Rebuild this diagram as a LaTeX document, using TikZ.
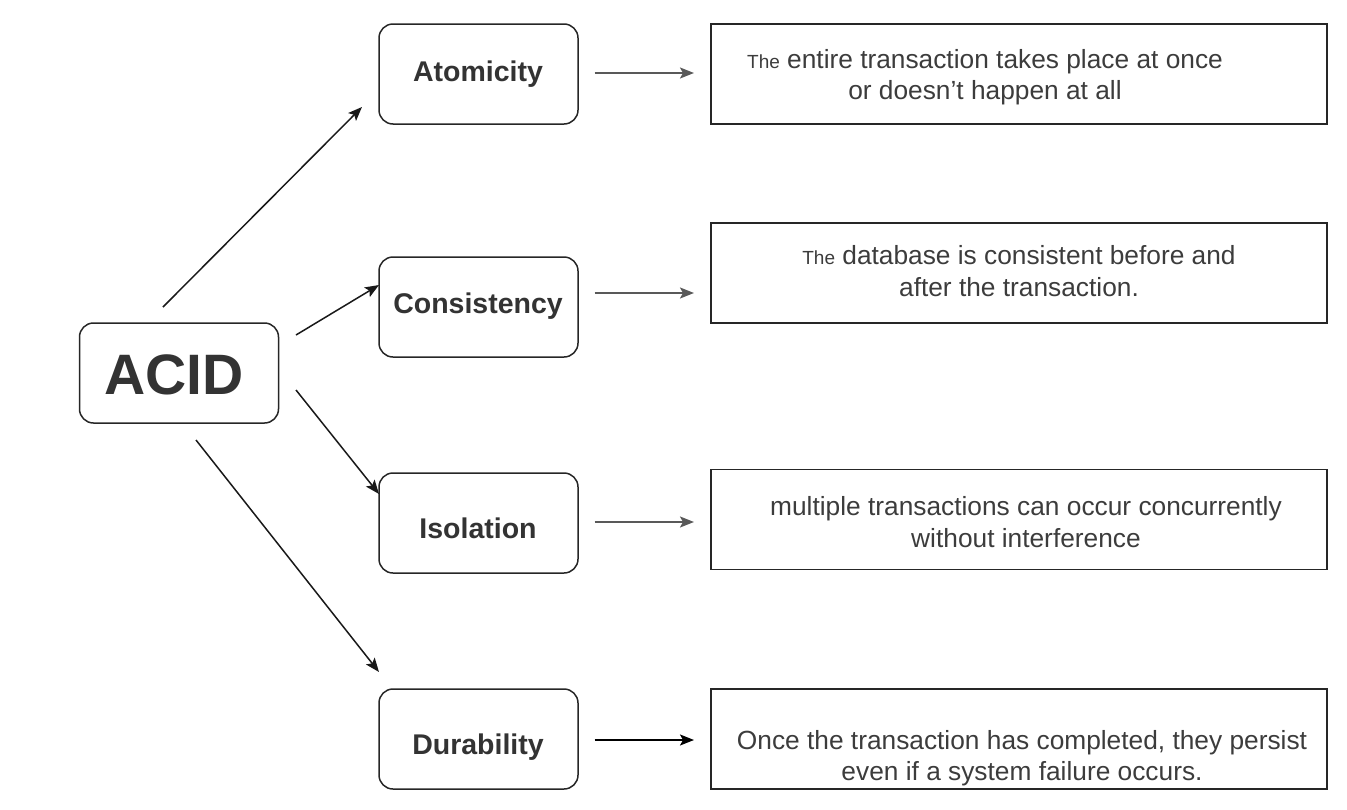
\documentclass[tikz,border=0pt]{standalone}
\usepackage{fontspec}
\setmainfont{Liberation Sans}
\usetikzlibrary{arrows.meta}
\definecolor{txt}{HTML}{333333}
\definecolor{desc}{HTML}{3C3C3C}
\definecolor{harr}{HTML}{595959}
\tikzset{
  keybox/.style={draw=black!85, line width=1.5pt, rounded corners=14pt, minimum width=199pt, minimum height=100pt, inner sep=0pt},
  descbox/.style={draw=black!85, line width=1.6pt, minimum width=616pt, minimum height=100pt, inner sep=0pt},
  keylabel/.style={text=txt, font=\fontsize{28.5}{30}\selectfont\bfseries},
  desctext/.style={text=desc, align=center, inner sep=0pt, font=\fontsize{26.3}{31.5}\selectfont},
  diagarrow/.style={draw=black!90, line width=1.5pt, -{Stealth[length=14pt,width=11pt,inset=3pt]}},
  harrow/.style={draw=harr, line width=2pt, -{Stealth[length=14pt,width=11pt,inset=3pt]}},
}
\newcommand{\smallthe}{{\fontsize{19}{19}\selectfont The}}
\begin{document}
\begin{tikzpicture}[x=1pt,y=-1pt]
\useasboundingbox (0,0) rectangle (1347,809);
% main box
\node[keybox] (acid) at (179,373) {};
\node[text=txt, font=\fontsize{57}{58}\selectfont\bfseries] (acidt) at (174,375) {ACID};
% property boxes
\node[keybox] (atom) at (478.5,74) {};
\node[keylabel] (atomt) at (478,74) {Atomicity};
\node[keybox] (cons) at (478.5,307) {};
\node[keylabel] (const) at (478,306) {Consistency};
\node[keybox] (isol) at (478.5,523) {};
\node[keylabel] (isolt) at (478,528) {Isolation};
\node[keybox] (dura) at (478.5,739) {};
\node[keylabel] (durat) at (478,747) {Durability};
% description boxes
\node[descbox] (atomd) at (1019,74) {};
\node[desctext] (atomdt) at (985,77) {\smallthe{} entire transaction takes place at once\\or doesn’t happen at all};
\node[descbox] (consd) at (1019,273) {};
\node[desctext] (consdt) at (1019,271) {\smallthe{} database is consistent before and\\after the transaction.};
\node[descbox] (isold) at (1019,519.5) {};
\node[desctext] (isoldt) at (1026,522) {multiple transactions can occur concurrently\\without interference};
\node[descbox] (durad) at (1019,739) {};
\node[desctext] (uradt) at (1022,758) {Once the transaction has completed, they persist\\even if a system failure occurs.};
% free ends of the connectors
\coordinate (a1) at (163,307);
\coordinate (a2) at (362,107);
\coordinate (c1) at (296,335);
\coordinate (c2) at (379,285);
\coordinate (i1) at (296,390);
\coordinate (i2) at (379,494);
\coordinate (d1) at (196,440);
\coordinate (d2) at (379,672);
\draw[diagarrow] (a1) -- (a2);
\draw[diagarrow] (c1) -- (c2);
\draw[diagarrow] (i1) -- (i2);
\draw[diagarrow] (d1) -- (d2);
% horizontal arrows
\coordinate (ha1) at (594.5,73);
\coordinate (ha2) at (694,73);
\coordinate (hc1) at (594.5,293);
\coordinate (hc2) at (694,293);
\coordinate (hi1) at (594.5,522);
\coordinate (hi2) at (694,522);
\coordinate (hd1) at (594.5,740);
\coordinate (hd2) at (694,740);
\draw[harrow] (ha1) -- (ha2);
\draw[harrow] (hc1) -- (hc2);
\draw[harrow] (hi1) -- (hi2);
\draw[harrow, draw=black, line width=1.5pt] (hd1) -- (hd2);
\end{tikzpicture}
\end{document}
